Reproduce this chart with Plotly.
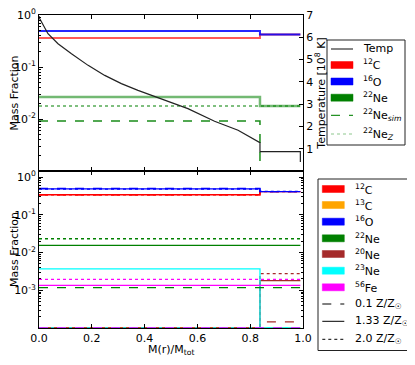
import numpy as np
import plotly.graph_objects as go

# ---- data ----
# zone edges in M(r)/Mtot : core | envelope
zone_x = [0.0, 0.837, 0.99]

# top panel : temperature profile [10^8 K]
temp_x = [0.0, 0.003, 0.034, 0.072, 0.123, 0.186, 0.249, 0.312, 0.375, 0.457,
          0.564, 0.665, 0.754, 0.837, 0.837, 0.99, 0.99]
temp_y = [6.95, 6.83, 6.16, 5.71, 5.26, 4.74, 4.29, 3.92, 3.62, 3.27,
          2.80, 2.23, 1.83, 1.27, 0.87, 0.87, 0.40]

# top panel mass fractions [core, envelope]
top_c12 = [0.36, 0.42]
top_o16 = [0.49, 0.42]
top_ne22 = [0.0265, 0.0178]
top_ne22_sim = [0.0092, 0.0]
top_ne22_z = [0.0178, 0.0178]

# bottom panel mass fractions [core, envelope] for 0.1 / 1.33 / 2.0 Z/Zsun
bot = {
    'c12': {'dash': [0.34, 0.41], 'solid': [0.34, 0.41], 'dot': [0.34, 0.41]},
    'c13': {'dash': [0.0, 0.0], 'solid': [0.0, 0.0], 'dot': [0.0, 0.0]},
    'o16': {'dash': [0.50, 0.41], 'solid': [0.49, 0.41], 'dot': [0.48, 0.42]},
    'ne22': {'dash': [0.00117, 0.00117], 'solid': [0.0155, 0.0155], 'dot': [0.0232, 0.0232]},
    'ne20': {'dash': [0.0, 0.000145], 'solid': [0.0, 0.0018], 'dot': [0.0, 0.00275]},
    'ne23': {'dash': [0.0, 0.0], 'solid': [0.0037, 0.0], 'dot': [0.0, 0.0]},
    'fe56': {'dash': [0.0, 0.0], 'solid': [0.00135, 0.00135], 'dot': [0.00194, 0.00194]},
}
iso_names = {'c12': '<sup>12</sup>C', 'c13': '<sup>13</sup>C', 'o16': '<sup>16</sup>O',
             'ne22': '<sup>22</sup>Ne', 'ne20': '<sup>20</sup>Ne', 'ne23': '<sup>23</sup>Ne',
             'fe56': '<sup>56</sup>Fe'}
iso_colors = {'c12': '#ff0000', 'c13': '#ffa500', 'o16': '#0000ff', 'ne22': '#008000',
              'ne20': '#a52a2a', 'ne23': '#00ffff', 'fe56': '#ff00ff'}
z_labels = {'dash': '0.1 Z/Z<sub>☉</sub>', 'solid': '1.33 Z/Z<sub>☉</sub>', 'dot': '2.0 Z/Z<sub>☉</sub>'}


def step(vals, floor):
    # zero -> clipped to the floor, like matplotlib's log clipping
    v = [max(a, floor) for a in vals]
    return [v[0], v[1], v[1]]


fig = go.Figure()

# ---------------- top panel ----------------
def top_line(vals, color, dash='solid', width=2):
    fig.add_trace(go.Scatter(x=zone_x, y=step(vals, 1e-6), mode='lines', line_shape='hv',
                             line=dict(color=color, width=width, dash=dash),
                             xaxis='x', yaxis='y', showlegend=False, hoverinfo='skip'))

top_line(top_ne22_z, 'rgba(0,128,0,0.5)', 'dot')
top_line(top_ne22_sim, 'rgba(0,128,0,0.9)', 'dash', 1.5)
top_line(top_ne22, 'rgba(0,128,0,0.55)', 'solid', 2.5)
top_line(top_c12, 'rgba(255,0,0,0.65)')
top_line(top_o16, 'rgba(0,0,255,0.85)')

fig.add_trace(go.Scatter(x=temp_x, y=temp_y, mode='lines', line=dict(color='#222222', width=1.2),
                         xaxis='x', yaxis='y3', showlegend=False, hoverinfo='skip'))

# ---------------- bottom panel ----------------
for iso in ['c13', 'ne20', 'ne23', 'fe56', 'ne22', 'c12', 'o16']:
    for st in ['solid', 'dot', 'dash']:
        fig.add_trace(go.Scatter(x=zone_x, y=step(bot[iso][st], 1e-4), mode='lines', line_shape='hv',
                                 line=dict(color=iso_colors[iso], width=1.3, dash=st),
                                 xaxis='x2', yaxis='y2', showlegend=False, hoverinfo='skip'))

# ---------------- hand-made legends (matplotlib-like spacing) ----------------
# window pixel -> paper coords (plot area spans x 39..303, y 15..328 in the window)
def px(x):
    return (x - 39) / 264.0


def py(y):
    return (328 - y) / 313.0


def legend_box(x0, x1, y0, y1):
    fig.add_shape(type='rect', xref='paper', yref='paper', x0=px(x0), x1=px(x1), y0=py(y1), y1=py(y0),
                  line=dict(color='#222222', width=1), fillcolor='white', layer='above')


def legend_item(kind, color, label, ycen, xs0, xs1, xt, dash='solid', width=1):
    if kind == 'patch':
        fig.add_shape(type='rect', xref='paper', yref='paper', x0=px(xs0), x1=px(xs1),
                      y0=py(ycen + 3.5), y1=py(ycen - 3.5), fillcolor=color,
                      line=dict(color=color, width=0.5), layer='above')
    else:
        fig.add_shape(type='line', xref='paper', yref='paper', x0=px(xs0), x1=px(xs1),
                      y0=py(ycen), y1=py(ycen), line=dict(color=color, width=width, dash=dash),
                      layer='above')
    fig.add_annotation(text=label, xref='paper', yref='paper', x=px(xt), y=py(ycen),
                       xanchor='left', yanchor='middle', showarrow=False,
                       font=dict(size=11, color='black'))


legend_box(327, 405, 40, 145)
top_entries = [('line', '#333333', 'Temp', 49, 'solid', 1.2),
               ('patch', '#ff0000', '<sup>12</sup>C', 65, 'solid', 1),
               ('patch', '#0000ff', '<sup>16</sup>O', 81.5, 'solid', 1),
               ('patch', '#008000', '<sup>22</sup>Ne', 97.7, 'solid', 1),
               ('line', 'rgba(0,128,0,0.85)', '<sup>22</sup>Ne<sub><i>sim</i></sub>', 115.3, 'dash', 1.2),
               ('line', 'rgba(0,128,0,0.45)', '<sup>22</sup>Ne<sub><i>Z</i></sub>', 134, 'dot', 1.2)]
for kind, col, lab, yc, d, w in top_entries:
    legend_item(kind, col, lab, yc, 331, 353, 361, d, w)

legend_box(318, 411.5, 179, 350.5)
bot_y = [189, 205, 221.7, 238.3, 254, 270.7, 287.3]
for iso, yc in zip(['c12', 'c13', 'o16', 'ne22', 'ne20', 'ne23', 'fe56'], bot_y):
    legend_item('patch', iso_colors[iso], iso_names[iso], yc, 322.3, 344.3, 353)
for st, yc in zip(['dash', 'solid', 'dot'], [304, 321.3, 339.3]):
    legend_item('line', 'black', z_labels[st], yc, 322.3, 344.3, 353, st, 1)

# x title
fig.add_annotation(text='M(r)/M<sub>tot</sub>', xref='paper', yref='paper', x=px(171), y=py(350),
                   xanchor='center', yanchor='middle', showarrow=False, font=dict(size=11))

# ---------------- layout ----------------
split = (328 - 171) / 313.0
font = dict(family='DejaVu Sans', size=11, color='black')
minor_top = [k * 10.0 ** n for n in range(-3, 0) for k in range(2, 10)]
minor_bot = [k * 10.0 ** n for n in range(-4, 1) for k in range(2, 10)]

axis_common = dict(showline=True, linecolor='black', linewidth=1, ticks='inside',
                   tickcolor='black', showgrid=False, zeroline=False, automargin=False,
                   ticklabeloverflow='allow')

# the page body has an 8px margin, so the figure is shifted by 8px: shrink it to compensate
fig.update_layout(
    width=407, height=357,
    margin=dict(l=31, r=112, t=7, b=37, autoexpand=False),
    paper_bgcolor='white', plot_bgcolor='white',
    font=font, showlegend=False,
    xaxis=dict(axis_common, domain=[0, 1], anchor='y', range=[0, 1], dtick=0.2,
               showticklabels=False, mirror='ticks', ticklen=4),
    yaxis=dict(axis_common, domain=[split, 1], anchor='x', type='log', range=[-3, 0.0001],
               tickvals=[1, 0.1, 0.01], ticktext=['10<sup>0</sup>', '10<sup>-1</sup>', '10<sup>-2</sup>'],
               ticklen=4, minor=dict(tickvals=minor_top, ticks='inside', ticklen=2, tickcolor='black'),
               title=dict(text='Mass Fraction', standoff=2, font=dict(size=11))),
    yaxis3=dict(axis_common, overlaying='y', side='right', anchor='x', range=[0, 7], dtick=1,
                ticklen=4, tickvals=[1, 2, 3, 4, 5, 6, 7],
                title=dict(text='Temperature [10<sup>8</sup> K]', standoff=2, font=dict(size=11))),
    xaxis2=dict(axis_common, domain=[0, 1], anchor='y2', range=[0, 1], dtick=0.2,
                tickformat='.1f', mirror='ticks', ticklen=4),
    yaxis2=dict(axis_common, domain=[0, split], anchor='x2', type='log', range=[-4, np.log10(1.45)],
                tickvals=[1, 0.1, 0.01, 0.001],
                ticktext=['10<sup>0</sup>', '10<sup>-1</sup>', '10<sup>-2</sup>', '10<sup>-3</sup>'],
                mirror='ticks', ticklen=4,
                minor=dict(tickvals=minor_bot, ticks='inside', ticklen=2, tickcolor='black'),
                title=dict(text='Mass Fraction', standoff=2, font=dict(size=11))),
)

fig.write_html("out.html")
